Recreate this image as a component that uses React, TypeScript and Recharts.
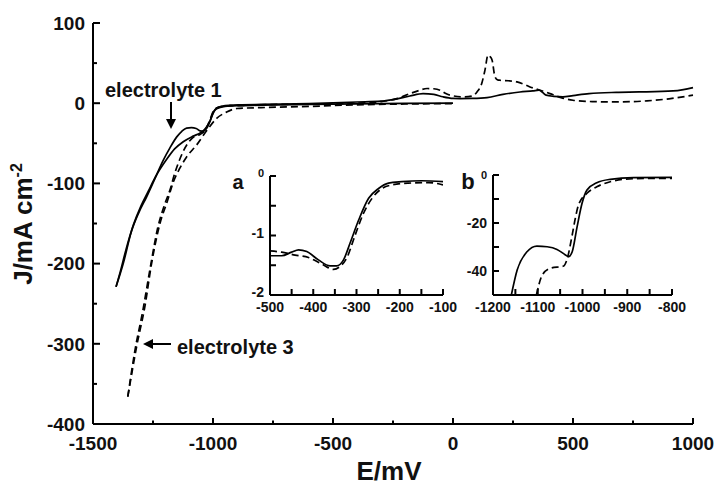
import { LineChart, Line, XAxis, YAxis } from 'recharts'

const FONT = '"Liberation Sans", Arial, Helvetica, sans-serif'

// ---- main voltammogram (E in mV, J in mA cm-2) ----
// electrolyte 1, cathodic sweep 0 → -1404 mV (listed in ascending E)
const e1FwdE = [-1404, -1374, -1340, -1310, -1277, -1242, -1207, -1180, -1151, -1130, -1110, -1090, -1070, -1054, -1040, -1026, -1012, -1000, -985, -950, -900, -800, -600, -400, -200, 0]
const e1FwdJ = [-229, -200, -160, -137, -117, -94, -71, -56, -42, -35, -31, -30.5, -31.5, -34.5, -35, -31, -22, -12, -7, -4, -3, -2.5, -1.5, -0.8, -0.3, 0]
// electrolyte 1, return sweep -1404 → +1000 mV
const e1RevE = [-1404, -1388, -1362, -1332, -1300, -1270, -1240, -1193, -1160, -1124, -1082, -1050, -1030, -1012, -997, -985, -960, -930, -880, -800, -600, -400, -300, -250, -180, -125, -80, -42, 0, 29, 80, 142, 208, 279, 333, 358, 375, 388, 420, 458, 500, 567, 680, 775, 917, 960, 1000]
const e1RevJ = [-229, -212, -182, -152, -128, -110, -92, -70, -57, -48, -41, -36.5, -31, -22, -11, -6, -3.5, -2.5, -2, -1.5, -0.5, 1.5, 2.5, 4.5, 9, 12, 11, 8, 6, 5.8, 6, 7, 11, 14, 15.3, 16.2, 13, 10, 8.5, 7.9, 9.5, 12, 13.5, 14, 15.3, 17, 19.5]

// electrolyte 3, cathodic sweep 0 → -1355 mV
const e3FwdE = [-1355, -1318, -1283, -1256, -1221, -1190, -1165, -1140, -1110, -1068, -1026, -985, -943, -901, -800, -600, -400, -200, 0]
const e3FwdJ = [-366, -303, -252, -200, -150, -122, -98, -82, -67, -52, -34, -19, -11, -6.6, -5.5, -4, -2, -1, -0.5]
// electrolyte 3, return sweep -1355 → +1000 mV
const e3RevE = [-1355, -1325, -1292, -1262, -1230, -1200, -1179, -1160, -1145, -1124, -1100, -1080, -1054, -1040, -1026, -1012, -1000, -985, -960, -900, -800, -600, -400, -300, -230, -179, -140, -108, -80, -54, -30, -13, 42, 80, 100, 120, 133, 146, 155, 163, 175, 186, 196, 230, 267, 300, 321, 363, 404, 450, 500, 580, 667, 750, 808, 900, 1000]
const e3RevJ = [-366, -308, -258, -206, -155, -125, -108, -88, -75, -60, -48, -42, -39, -36, -30, -20, -11, -6, -4, -3, -2, -1, 0, 2, 6, 12, 16, 18.3, 18, 16.2, 12, 10, 7.9, 9, 14, 25, 41, 60, 58, 53.5, 32.8, 29, 28.6, 28, 26.5, 23, 20.3, 16.2, 12, 7, 3.7, 2, 1.6, 2, 2.9, 5.5, 10]

// ---- inset a: -500 … -100 mV ----
const aSolidE = [-500, -473, -450, -434, -415, -388, -361, -346, -330, -315, -295, -272, -249, -226, -195, -149, -100]
const aSolidJ = [-1.34, -1.34, -1.28, -1.24, -1.27, -1.41, -1.51, -1.51, -1.41, -1.13, -0.74, -0.375, -0.21, -0.12, -0.095, -0.08, -0.095]
const aDashE = [-500, -473, -442, -411, -380, -353, -338, -322, -303, -284, -264, -241, -218, -180, -133, -100]
const aDashJ = [-1.26, -1.28, -1.33, -1.37, -1.48, -1.57, -1.52, -1.37, -0.99, -0.63, -0.375, -0.21, -0.15, -0.12, -0.11, -0.15]

// ---- inset b: -1200 … -800 mV ----
const bSolidE = [-1159, -1146, -1124, -1102, -1079, -1057, -1038, -1031, -1023, -1012, -1001, -990, -968, -938, -886, -800]
const bSolidJ = [-50, -39.6, -32, -29.6, -29.9, -31, -33.3, -34, -32, -21.5, -11.8, -6.25, -3.2, -1.8, -1.1, -1]
const bDashE = [-1103, -1090, -1072, -1042, -1035, -1023, -1016, -1009, -990, -968, -938, -908, -848, -800]
const bDashJ = [-50, -41.7, -38.9, -37.9, -35.4, -25, -18, -12.5, -7.6, -4.9, -2.8, -1.8, -1.4, -1.4]

// tick positions (minor + major) and which of them get a label
const mainXTicks = [-1500, -1250, -1000, -750, -500, -250, 0, 250, 500, 750, 1000]
const mainXLabels = [-1500, -1000, -500, 0, 500, 1000]
const mainYTicks = [-400, -350, -300, -250, -200, -150, -100, -50, 0, 50, 100]
const mainYLabels = [-400, -300, -200, -100, 0, 100]
const aXTicks = [-500, -450, -400, -350, -300, -250, -200, -150, -100]
const aXLabels = [-500, -400, -300, -200, -100]
const aYTicks = [-2, -1.5, -1, -0.5, 0]
const aYLabels = [-2, -1, 0]
const bXTicks = [-1200, -1150, -1100, -1050, -1000, -950, -900, -850, -800]
const bXLabels = [-1200, -1100, -1000, -900, -800]
const bYTicks = [-50, -40, -30, -20, -10, 0]
const bYLabels = [-40, -20, 0]

const pts = (E: number[], J: number[]) => E.map((e, i) => ({ E: e, J: J[i] }))

type TickCfg = {
  side: 'bottom' | 'left'
  labels: number[]
  major: number
  minor: number
  fontSize: number
  gap: number
  lift?: number
  zeroSize?: number
}

// ticks point into the plot; labels sit outside the axis
const inwardTick = (c: TickCfg) => (p: any) => {
  const v = p.payload.value as number
  const labelled = c.labels.some(l => Math.abs(l - v) < 1e-9)
  const len = labelled ? c.major : c.minor
  const fs = v === 0 && c.zeroSize ? c.zeroSize : c.fontSize
  if (c.side === 'bottom') {
    return (
      <g>
        <line x1={p.x} x2={p.x} y1={p.y} y2={p.y - len} stroke="#000" strokeWidth={2} />
        {labelled && (
          <text x={p.x} y={p.y + c.gap} textAnchor="middle" fontFamily={FONT} fontWeight="bold" fontSize={fs} fill="#111">
            {v}
          </text>
        )}
      </g>
    )
  }
  return (
    <g>
      <line x1={p.x} x2={p.x + len} y1={p.y} y2={p.y} stroke="#000" strokeWidth={2} />
      {labelled && (
        <text x={p.x - c.gap} y={p.y + fs * 0.36 - (c.lift ?? 0)} textAnchor="end" fontFamily={FONT} fontWeight="bold" fontSize={fs} fill="#111">
          {v}
        </text>
      )}
    </g>
  )
}

const axisLine = { stroke: '#000', strokeWidth: 2 }

function Curve({ data, dashed }: { data: { E: number; J: number }[]; dashed?: boolean }) {
  return (
    <Line
      data={data}
      dataKey="J"
      type="monotone"
      stroke="#000"
      strokeWidth={1.7}
      strokeDasharray={dashed ? '7 4' : undefined}
      dot={false}
      activeDot={false}
      isAnimationActive={false}
    />
  )
}

export default function App() {
  return (
    <div style={{ position: 'absolute', left: 0, top: 0, width: 716, height: 485, background: '#fff' }}>
      <div style={{ position: 'absolute', left: 0, top: 0 }}>
        <LineChart width={716} height={485} margin={{ top: 23, right: 23, bottom: 31, left: 63 }}>
          <XAxis
            type="number" dataKey="E" domain={[-1500, 1000]} ticks={mainXTicks} interval={0}
            height={30} tickSize={0} tickMargin={0} tickLine={false} axisLine={axisLine}
            tick={inwardTick({ side: 'bottom', labels: mainXLabels, major: 6, minor: 3.5, fontSize: 19, gap: 26 })}
          />
          <YAxis
            type="number" domain={[-400, 100]} ticks={mainYTicks} interval={0}
            width={30} tickSize={0} tickMargin={0} tickLine={false} axisLine={axisLine}
            tick={inwardTick({ side: 'left', labels: mainYLabels, major: 7, minor: 4, fontSize: 19, gap: 8 })}
          />
          <Curve data={pts(e1FwdE, e1FwdJ)} />
          <Curve data={pts(e1RevE, e1RevJ)} />
          <Curve data={pts(e3FwdE, e3FwdJ)} dashed />
          <Curve data={pts(e3RevE, e3RevJ)} dashed />
        </LineChart>
      </div>

      <div style={{ position: 'absolute', left: 215, top: 160 }}>
        <LineChart width={262} height={162} margin={{ top: 16, right: 34, bottom: 7, left: 25 }}>
          <XAxis
            type="number" dataKey="E" domain={[-500, -100]} ticks={aXTicks} interval={0} allowDataOverflow
            height={20} tickSize={0} tickMargin={0} tickLine={false} axisLine={axisLine}
            tick={inwardTick({ side: 'bottom', labels: aXLabels, major: 6, minor: 6, fontSize: 14, gap: 17 })}
          />
          <YAxis
            type="number" domain={[-2, 0]} ticks={aYTicks} interval={0} allowDataOverflow
            width={30} tickSize={0} tickMargin={0} tickLine={false} axisLine={axisLine}
            tick={inwardTick({ side: 'left', labels: aYLabels, major: 6, minor: 6, fontSize: 14, gap: 6, lift: 3, zeroSize: 11 })}
          />
          <Curve data={pts(aSolidE, aSolidJ)} />
          <Curve data={pts(aDashE, aDashJ)} dashed />
        </LineChart>
      </div>

      <div style={{ position: 'absolute', left: 450, top: 160 }}>
        <LineChart width={262} height={162} margin={{ top: 15, right: 40, bottom: 7, left: 13 }}>
          <XAxis
            type="number" dataKey="E" domain={[-1200, -800]} ticks={bXTicks} interval={0} allowDataOverflow
            height={20} tickSize={0} tickMargin={0} tickLine={false} axisLine={axisLine}
            tick={inwardTick({ side: 'bottom', labels: bXLabels, major: 6, minor: 6, fontSize: 14, gap: 17 })}
          />
          <YAxis
            type="number" domain={[-50, 0]} ticks={bYTicks} interval={0} allowDataOverflow
            width={30} tickSize={0} tickMargin={0} tickLine={false} axisLine={axisLine}
            tick={inwardTick({ side: 'left', labels: bYLabels, major: 6, minor: 6, fontSize: 14, gap: 6, zeroSize: 11 })}
          />
          <Curve data={pts(bSolidE, bSolidJ)} />
          <Curve data={pts(bDashE, bDashJ)} dashed />
        </LineChart>
      </div>

      {/* titles, panel letters and electrolyte call-outs */}
      <svg width={716} height={485} style={{ position: 'absolute', left: 0, top: 0, pointerEvents: 'none' }}>
        <g fontFamily={FONT} fontWeight="bold" fill="#111">
          <text x={389} y={480} fontSize={26} textAnchor="middle">E/mV</text>
          <text transform="translate(32,224) rotate(-90)" fontSize={26} textAnchor="middle">
            J/mA cm<tspan fontSize={16} dy={-10}>-2</tspan>
          </text>
          <text x={238} y={189} fontSize={20} textAnchor="middle">a</text>
          <text x={468} y={189} fontSize={22} textAnchor="middle">b</text>
          <text x={105} y={97} fontSize={20}>electrolyte 1</text>
          <text x={177} y={354} fontSize={20}>electrolyte 3</text>
        </g>
        <line x1={171} y1={102} x2={171} y2={121} stroke="#000" strokeWidth={2} />
        <polygon points="166,119 176,119 171,129" fill="#000" />
        <line x1={152} y1={344} x2={171} y2={344} stroke="#000" strokeWidth={2} />
        <polygon points="153,339 153,349 143,344" fill="#000" />
      </svg>
    </div>
  )
}
